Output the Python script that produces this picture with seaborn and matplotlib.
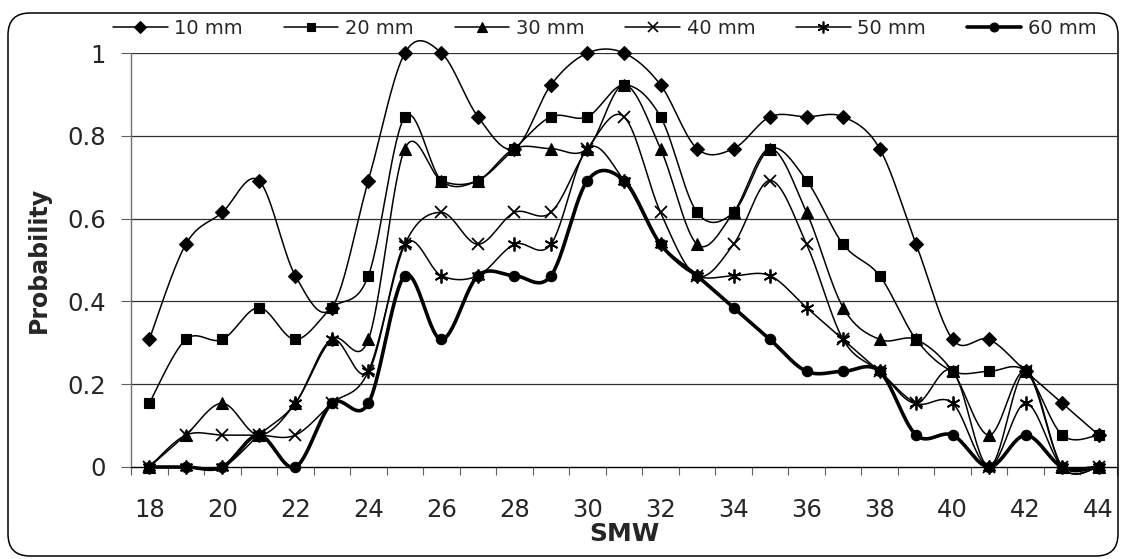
import numpy as np
import pandas as pd
import seaborn as sns
import matplotlib
matplotlib.use("Agg")
import matplotlib.pyplot as plt
from matplotlib.lines import Line2D
from matplotlib.patches import FancyBboxPatch
from matplotlib.ticker import FixedLocator

# ---------------- data ----------------
weeks = list(range(18, 45))
series_names = ["10 mm", "20 mm", "30 mm", "40 mm", "50 mm", "60 mm"]

p10 = [0.308, 0.538, 0.615, 0.692, 0.462, 0.385, 0.692, 1.000, 1.000, 0.846,
       0.769, 0.923, 1.000, 1.000, 0.923, 0.769, 0.769, 0.846, 0.846, 0.846,
       0.769, 0.538, 0.308, 0.308, 0.231, 0.154, 0.077]
p20 = [0.154, 0.308, 0.308, 0.385, 0.308, 0.385, 0.462, 0.846, 0.692, 0.692,
       0.769, 0.846, 0.846, 0.923, 0.846, 0.615, 0.615, 0.769, 0.692, 0.538,
       0.462, 0.308, 0.231, 0.231, 0.231, 0.077, 0.077]
p30 = [0.000, 0.077, 0.154, 0.077, 0.154, 0.308, 0.308, 0.769, 0.692, 0.692,
       0.769, 0.769, 0.769, 0.923, 0.769, 0.538, 0.615, 0.769, 0.615, 0.385,
       0.308, 0.308, 0.231, 0.077, 0.231, 0.000, 0.000]
p40 = [0.000, 0.077, 0.077, 0.077, 0.077, 0.154, 0.231, 0.538, 0.615, 0.538,
       0.615, 0.615, 0.769, 0.846, 0.615, 0.462, 0.538, 0.692, 0.538, 0.308,
       0.231, 0.154, 0.231, 0.000, 0.231, 0.000, 0.000]
p50 = [0.000, 0.000, 0.000, 0.077, 0.154, 0.308, 0.231, 0.538, 0.462, 0.462,
       0.538, 0.538, 0.769, 0.692, 0.538, 0.462, 0.462, 0.462, 0.385, 0.308,
       0.231, 0.154, 0.154, 0.000, 0.154, 0.000, 0.000]
p60 = [0.000, 0.000, 0.000, 0.077, 0.000, 0.154, 0.154, 0.462, 0.308, 0.462,
       0.462, 0.462, 0.692, 0.692, 0.538, 0.462, 0.385, 0.308, 0.231, 0.231,
       0.231, 0.077, 0.077, 0.000, 0.077, 0.000, 0.000]

y_ticks = [0, 0.2, 0.4, 0.6, 0.8, 1]
y_tick_labels = ["0", "0.2", "0.4", "0.6", "0.8", "1"]
x_tick_values = list(range(18, 45, 2))
x_label = "SMW"
y_label = "Probability"

all_series = [p10, p20, p30, p40, p50, p60]
markers = ["D", "s", "^", "x", (6, 2, 0), "o"]
msizes = [7.5, 7.5, 8.5, 9, 10, 7.5]
lwidths = [1.1, 1.1, 1.1, 1.1, 1.1, 2.6]


def smooth(x, y, n=30):
    """Bezier (Catmull-Rom style) smoothing like spreadsheet 'smoothed line'."""
    x = np.asarray(x, float)
    y = np.asarray(y, float)
    P = np.column_stack([x, y])
    Pe = np.vstack([P[0], P, P[-1]])
    out = []
    t = np.linspace(0, 1, n, endpoint=False)[:, None]
    for i in range(len(P) - 1):
        p0, p1, p2, p3 = Pe[i], Pe[i + 1], Pe[i + 2], Pe[i + 3]
        c1 = p1 + (p2 - p0) / 6.0
        c2 = p2 - (p3 - p1) / 6.0
        seg = ((1 - t) ** 3) * p1 + 3 * ((1 - t) ** 2) * t * c1 + 3 * (1 - t) * t ** 2 * c2 + t ** 3 * p2
        out.append(seg)
    out.append(P[-1][None, :])
    out = np.vstack(out)
    return out[:, 0], out[:, 1]


# ---------------- figure ----------------
sns.set_theme(style="white")
plt.rcParams["font.family"] = ["DejaVu Sans"]

fig = plt.figure(figsize=(11.22, 5.59), dpi=100)
ax = fig.add_axes([131 / 1122, 1 - 467 / 559, (1117 - 131) / 1122, (467 - 53) / 559])

for name, vals, mk, ms, lw in zip(series_names, all_series, markers, msizes, lwidths):
    sx, sy = smooth(weeks, vals)
    sns.lineplot(x=sx, y=sy, ax=ax, color="black", lw=lw, sort=False,
                 estimator=None, clip_on=False, zorder=3)
    mew = 1.3 if mk in ("x",) or isinstance(mk, tuple) else 0.8
    ax.plot(weeks, vals, linestyle="none", marker=mk, markersize=ms,
            color="black", markeredgecolor="black", markeredgewidth=mew,
            clip_on=False, zorder=4)

ax.set_xlim(17.5, 44.5)
ax.set_ylim(0, 1)

ax.yaxis.set_major_locator(FixedLocator(y_ticks))
ax.set_yticklabels(y_tick_labels)
ax.xaxis.set_major_locator(FixedLocator(x_tick_values))
ax.set_xticklabels([str(v) for v in x_tick_values])
ax.xaxis.set_minor_locator(FixedLocator(np.arange(17.5, 44.6, 1.0)))

ax.tick_params(axis="y", which="major", direction="out", length=7, width=0.8,
               color="#606060", labelsize=17.5, pad=11, left=True)
ax.tick_params(axis="x", which="major", length=0, labelsize=17.5, pad=22, bottom=True)
ax.tick_params(axis="x", which="minor", direction="out", length=6, width=0.8,
               color="#606060", bottom=True)

ax.grid(False)
for yv in y_ticks[1:]:
    ax.axhline(yv, color="#303030", lw=0.9, zorder=1)

for s in ["top", "right"]:
    ax.spines[s].set_visible(False)
ax.spines["left"].set_color("#707070")
ax.spines["left"].set_linewidth(1.0)
ax.spines["bottom"].set_color("black")
ax.spines["bottom"].set_linewidth(1.0)
ax.set_facecolor("white")

ax.set_xlabel(x_label, fontsize=18, fontweight="bold", labelpad=0)
ax.set_ylabel(y_label, fontsize=17, fontweight="bold", labelpad=12)

# legend
handles = [Line2D([0], [0], color="black", lw=lw, marker=mk, markersize=ms * 0.85,
                  markeredgewidth=1.2 if (mk == "x" or isinstance(mk, tuple)) else 0.8)
           for mk, ms, lw in zip(markers, msizes, lwidths)]
fig.legend(handles, series_names, loc="center", bbox_to_anchor=(605 / 1122, 1 - 28 / 559),
           ncol=6, frameon=False, fontsize=14, handlelength=2.8, handletextpad=0.35,
           columnspacing=2.1, borderpad=0, borderaxespad=0)

# rounded chart-area border
border = FancyBboxPatch((8, 3), 1110, 543, boxstyle="round,pad=0,rounding_size=22",
                        transform=None, fill=False, edgecolor="black", lw=1.1,
                        figure=fig)
fig.patches.append(border)

fig.savefig("out.png", dpi=100, facecolor="white")
